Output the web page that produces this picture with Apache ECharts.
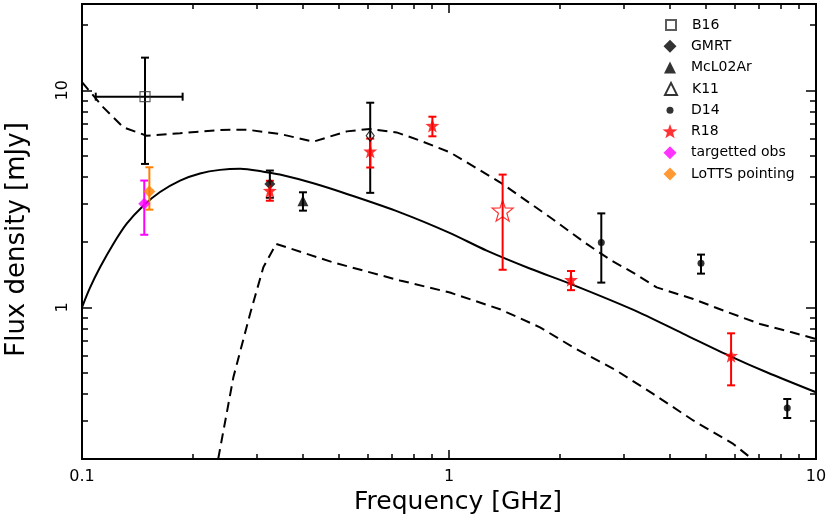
<!DOCTYPE html>
<html>
<head>
<meta charset="utf-8">
<script src="https://cdn.jsdelivr.net/npm/echarts@6/dist/echarts.min.js"></script>
</head>
<body style="margin:0">
<div id="chart" style="width:830px;height:516px"></div>
<script>
// model curves: [frequency GHz, flux mJy]
var bestFit = [[0.1,1.0],[0.1051,1.23],[0.112,1.53],[0.1217,1.96],[0.1324,2.43],[0.1469,2.94],
  [0.1632,3.40],[0.185,3.84],[0.2097,4.14],[0.2377,4.30],[0.27,4.35],[0.312,4.22],[0.346,4.09],
  [0.427,3.73],[0.527,3.33],[0.735,2.74],[1.0,2.21],[1.267,1.825],[1.66,1.51],[2.15,1.28],
  [3.17,0.976],[4.34,0.757],[5.87,0.593],[7.34,0.502],[10,0.406]];
var upperEnv = [[0.1,10.9],[0.1143,8.35],[0.1296,6.75],[0.150,6.18],[0.185,6.34],[0.2377,6.57],
  [0.281,6.59],[0.346,6.30],[0.427,5.80],[0.5265,6.47],[0.609,6.64],[0.72,6.40],[0.834,5.87],
  [1.006,5.18],[1.377,3.77],[1.885,2.60],[2.372,1.96],[2.776,1.64],[3.22,1.425],[3.68,1.236],
  [4.63,1.093],[5.67,0.958],[7.04,0.838],[8.59,0.767],[10,0.715]];
var lowerEnv = [[0.235,0.2],[0.2585,0.476],[0.287,0.932],[0.312,1.53],[0.338,1.96],[0.484,1.61],
  [0.735,1.33],[1.006,1.17],[1.377,0.98],[1.77,0.809],[2.18,0.654],[2.86,0.511],[3.60,0.399],
  [4.63,0.301],[5.95,0.2347],[6.7,0.2]];

// measurements: [frequency, flux, flux low, flux high (, freq low, freq high)]
var b16 = [[0.1485, 9.35, 4.58, 14.15, 0.109, 0.188]];
var gmrt = [[0.325, 3.70, 3.20, 4.27]];
var mcl02 = [[0.40, 3.10, 2.79, 3.39]];
var k11 = [[0.61, 6.18, 3.37, 8.77]];
var d14 = [[2.6, 1.99, 1.30, 2.71], [4.86, 1.595, 1.43, 1.75], [8.35, 0.344, 0.309, 0.378]];
var r18 = [[0.325, 3.45, 3.10, 3.83], [0.61, 5.24, 4.41, 5.99], [0.901, 6.88, 6.14, 7.56],
  [2.15, 1.34, 1.20, 1.47], [5.87, 0.599, 0.437, 0.759]];
var r18open = [[1.40, 2.79, 1.49, 4.09]];
var targetted = [[0.1478, 3.0, 2.16, 3.84]];
var lotts = [[0.1526, 3.42, 2.82, 4.42]];

var xMajor = [0.1, 1, 10];
var xMinor = [0.2,0.3,0.4,0.5,0.6,0.7,0.8,0.9,2,3,4,5,6,7,8,9];
var yMajor = [1, 10];
var yMinor = [0.3,0.4,0.5,0.6,0.7,0.8,0.9,2,3,4,5,6,7,8,9,20];

var FONT = 'DejaVu Sans';
var star = 'path://M0,-10L2.35,-3.24L9.51,-3.09L3.8,1.24L5.88,8.09L0,4.3L-5.88,8.09L-3.8,1.24L-9.51,-3.09L-2.35,-3.24Z';

function errorBars(color) {
  return function (params, api) {
    var f = api.value(0);
    var hi = api.coord([f, api.value(3)]);
    var lo = api.coord([f, api.value(2)]);
    var c = 4;
    var st = { stroke: color, lineWidth: 2 };
    var kids = [
      { type: 'line', shape: { x1: hi[0], y1: hi[1], x2: lo[0], y2: lo[1] }, style: st },
      { type: 'line', shape: { x1: hi[0] - c, y1: hi[1], x2: hi[0] + c, y2: hi[1] }, style: st },
      { type: 'line', shape: { x1: lo[0] - c, y1: lo[1], x2: lo[0] + c, y2: lo[1] }, style: st }
    ];
    var fl = api.value(4);
    if (fl && !isNaN(fl)) {
      var s = api.value(1);
      var l = api.coord([fl, s]), r = api.coord([api.value(5), s]);
      kids.push({ type: 'line', shape: { x1: l[0], y1: l[1], x2: r[0], y2: r[1] }, style: st });
      kids.push({ type: 'line', shape: { x1: l[0], y1: l[1] - c, x2: l[0], y2: l[1] + c }, style: st });
      kids.push({ type: 'line', shape: { x1: r[0], y1: r[1] - c, x2: r[0], y2: r[1] + c }, style: st });
    }
    return { type: 'group', children: kids };
  };
}

function axis(dim, pos, ticks, len, labels) {
  var a = {
    type: 'log', logBase: 10, position: pos,
    min: dim === 'x' ? 0.1 : 0.2, max: dim === 'x' ? 10 : 25,
    axisLine: { show: false },
    splitLine: { show: false },
    axisTick: { show: true, inside: true, length: len, customValues: ticks,
      lineStyle: { color: '#000', width: 1.5 } },
    axisLabel: { show: false }
  };
  if (labels) {
    a.axisLabel = { show: true, customValues: labels, color: '#000', fontFamily: FONT,
      fontSize: 16, margin: dim === 'x' ? 10 : 11, rotate: dim === 'x' ? 0 : 90,
      formatter: function (v) { return String(v); } };
  }
  return a;
}

var xAxes = [axis('x', 'bottom', xMajor, 9, xMajor), axis('x', 'bottom', xMinor, 5),
  axis('x', 'top', xMajor, 9), axis('x', 'top', xMinor, 5)];
xAxes[0].name = 'Frequency [GHz]';
xAxes[0].nameLocation = 'middle';
xAxes[0].nameGap = 26;
xAxes[0].nameTextStyle = { fontFamily: FONT, fontSize: 25, color: '#000', padding: [0, 0, 0, 18] };
var yAxes = [axis('y', 'left', yMajor, 10, yMajor), axis('y', 'left', yMinor, 6),
  axis('y', 'right', yMajor, 10), axis('y', 'right', yMinor, 6)];
yAxes[0].name = 'Flux density [mJy]';
yAxes[0].nameLocation = 'middle';
yAxes[0].nameGap = 52;
yAxes[0].nameTextStyle = { fontFamily: FONT, fontSize: 26, color: '#000', padding: [0, 16, 0, 0] };

var legendNames = ['B16', 'GMRT', 'McL02Ar', 'K11', 'D14', 'R18', 'targetted obs', 'LoTTS pointing'];
var legendIcons = ['rect', 'diamond', 'triangle', 'triangle', 'circle', star, 'diamond', 'diamond'];
var legendSizes = [10, 13, 12, 12, 7, 15, 13, 13];
var legends = legendNames.map(function (n, i) {
  var h = legendSizes[i];
  return {
    data: [{ name: n, icon: legendIcons[i] }],
    orient: 'vertical', selectedMode: false, padding: 0,
    left: 670 - h / 2, top: 25 + i * 21.3 - Math.max(h, 14) / 2,
    itemWidth: h, itemHeight: h,
    textStyle: { fontFamily: FONT, fontSize: 14, color: '#000', padding: [0, 0, 0, 16 - h / 2] }
  };
});

function line(name, data, dashed) {
  return { name: name, type: 'line', data: data, showSymbol: false, symbol: 'none',
    smooth: dashed ? false : 0.3, z: 2,
    lineStyle: { color: '#000', width: 2, type: dashed ? [10, 6] : 'solid' } };
}
function bars(name, data, color) {
  return { name: name, type: 'custom', data: data, renderItem: errorBars(color), z: 3 };
}
function points(name, data, symbol, size, style) {
  return { name: name, type: 'scatter', data: data, symbol: symbol, symbolSize: size,
    itemStyle: style, z: 4 };
}
var open = function (c) { return { color: 'rgba(0,0,0,0)', borderColor: c, borderWidth: 1.2 }; };

var chart = echarts.init(document.getElementById('chart'));
chart.setOption({
  animation: false,
  backgroundColor: '#fff',
  grid: { left: 82, right: 14, top: 4, bottom: 57, show: true, borderColor: '#000',
    borderWidth: 2, backgroundColor: 'rgba(0,0,0,0)', outerBoundsMode: 'none' },
  xAxis: xAxes,
  yAxis: yAxes,
  legend: legends,
  series: [
    line('model', bestFit, false),
    line('upper', upperEnv, true),
    line('lower', lowerEnv, true),
    bars('b16 err', b16, '#000'),
    bars('k11 err', k11, '#000'),
    bars('gmrt err', gmrt, '#000'),
    bars('mcl err', mcl02, '#000'),
    bars('d14 err', d14, '#000'),
    bars('r18 err', r18, '#f00'),
    bars('r18o err', r18open, '#f00'),
    bars('tgt err', targetted, '#f0f'),
    bars('lotts err', lotts, '#ff8000'),
    points('B16', b16, 'rect', 10, open('#333')),
    points('K11', k11, 'diamond', [8, 11], open('#000')),
    points('GMRT', gmrt, 'diamond', 11, { color: '#000' }),
    points('McL02Ar', mcl02, 'triangle', 11, { color: '#000' }),
    points('D14', d14, 'circle', 7, { color: '#000' }),
    points('R18', r18, star, 14, { color: '#f00' }),
    points('R18 open', r18open, star, 21, open('#f00')),
    points('targetted obs', targetted, 'diamond', 12, { color: '#f0f' }),
    points('LoTTS pointing', lotts, 'diamond', 12, { color: '#ff8000' })
  ]
});
</script>
</body>
</html>
